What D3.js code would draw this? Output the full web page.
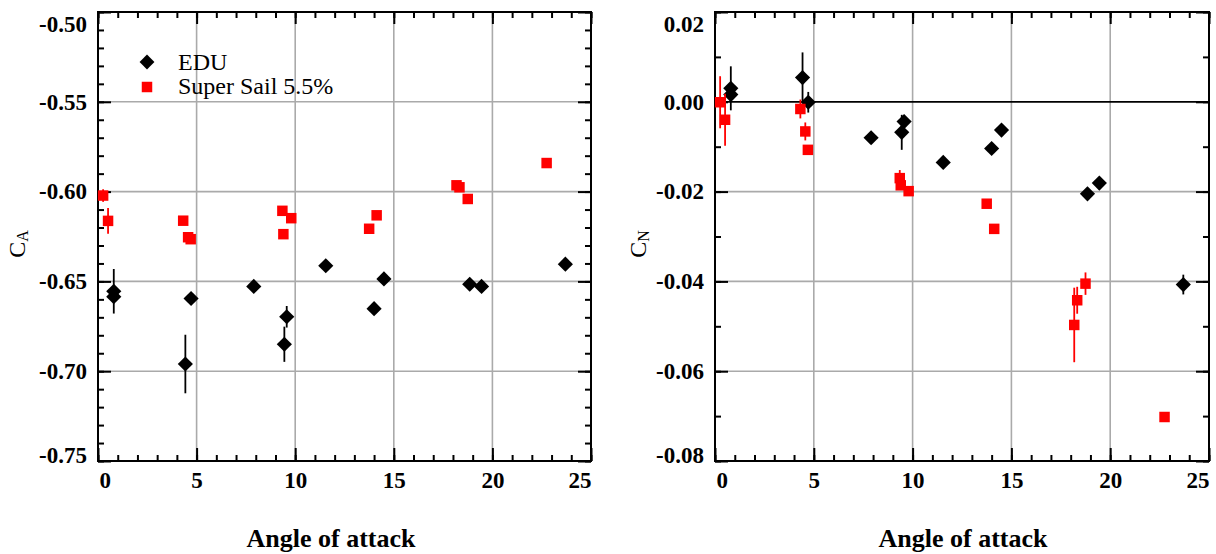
<!DOCTYPE html>
<html>
<head>
<meta charset="utf-8">
<script src="https://cdnjs.cloudflare.com/ajax/libs/d3/7.8.5/d3.min.js"></script>
<style>
  body { margin: 0; background: #fff; }
  svg text { font-family: "Liberation Serif", "Times New Roman", serif; }
</style>
</head>
<body>
<div id="chart"></div>
<script>
// EDU measurements
var angleEDU = [0.8, 0.8, 4.43, 4.72, 7.9, 9.57, 9.45, 11.55, 14.0, 14.5, 18.85, 19.45, 23.7];
var caEDU    = [-0.6555, -0.6585, -0.6960, -0.6595, -0.6528, -0.6697, -0.6850, -0.6413, -0.6652, -0.6486, -0.6516, -0.6528, -0.6404];
var caEDUerr = [0.0124, 0, 0.0163, 0, 0, 0.006, 0.0098, 0, 0, 0, 0, 0, 0];
var cnEDU    = [0.0030, 0.0016, 0.0054, -0.0001, -0.0080, -0.0044, -0.0068, -0.0135, -0.0104, -0.0063, -0.0205, -0.0181, -0.0407];
var cnEDUerr = [0.0049, 0, 0.0056, 0.0023, 0, 0, 0.0039, 0, 0, 0, 0, 0, 0.0022];

// Super Sail 5.5% measurements
var angleSS = [0.26, 0.51, 4.32, 4.57, 4.7, 9.35, 9.4, 9.8, 13.75, 14.13, 18.18, 18.33, 18.75, 22.75];
var caSS    = [-0.6022, -0.6163, -0.6162, -0.6254, -0.6265, -0.6107, -0.6237, -0.6148, -0.6207, -0.6132, -0.5965, -0.5976, -0.6041, -0.5841];
var caSSerr = [0.0035, 0.0072, 0, 0, 0, 0, 0, 0, 0, 0, 0, 0, 0, 0];
var cnSS    = [-0.0001, -0.0040, -0.0016, -0.0066, -0.0107, -0.0170, -0.0186, -0.0199, -0.0227, -0.0283, -0.0497, -0.0442, -0.0405, -0.0702];
var cnSSerr = [0.0058, 0.0058, 0.0021, 0.002, 0.001, 0.0018, 0, 0, 0.0008, 0.0008, 0.0083, 0.003, 0.0025, 0.0008];

// ticks
var xTicks = [0, 5, 10, 15, 20, 25];
var xMinor = d3.range(0, 26, 1);
var caTicks = [-0.75, -0.70, -0.65, -0.60, -0.55, -0.50];
var caMinor = d3.range(-0.75, -0.495, 0.01);
var cnTicks = [-0.08, -0.06, -0.04, -0.02, 0.00, 0.02];
var cnMinor = d3.range(-0.08, 0.0205, 0.01);

var seriesNames = ["EDU", "Super Sail 5.5%"];

var top_ = 12, bottom_ = 461;

var svg = d3.select("#chart").append("svg")
  .attr("width", 1216)
  .attr("height", 554);

function styleAxis(a) {
  a.select(".domain").remove();
  a.attr("font-family", "Liberation Serif").attr("font-size", 23).attr("font-weight", "bold");
  a.selectAll("line").attr("stroke", "#000").attr("stroke-width", 2);
}

function drawPanel(opt) {
  var x = d3.scaleLinear().domain([0, 25]).range([opt.left, opt.right]);
  var y = d3.scaleLinear().domain([opt.yTicks[0], opt.yTicks[opt.yTicks.length - 1]]).range([bottom_, top_]);
  var g = svg.append("g");

  // grid
  g.append("g").selectAll("line")
    .data(xTicks.slice(1, -1))
    .enter().append("line")
    .attr("x1", d => x(d)).attr("x2", d => x(d))
    .attr("y1", top_).attr("y2", bottom_)
    .attr("stroke", "#aaaaaa").attr("stroke-width", 1.6);

  g.append("g").selectAll("line")
    .data(opt.yTicks.slice(1, -1))
    .enter().append("line")
    .attr("x1", opt.left).attr("x2", opt.right)
    .attr("y1", d => y(d)).attr("y2", d => y(d))
    .attr("stroke", d => (opt.zeroLine && d === 0) ? "#000" : "#aaaaaa")
    .attr("stroke-width", d => (opt.zeroLine && d === 0) ? 1.8 : 1.6);

  // bottom
  g.append("g").attr("transform", `translate(0,${bottom_})`)
    .call(d3.axisBottom(x).tickValues(xMinor).tickSize(-6).tickFormat(""))
    .call(styleAxis);
  var xb = g.append("g").attr("transform", `translate(0,${bottom_})`)
    .call(d3.axisBottom(x).tickValues(xTicks).tickSize(-13).tickPadding(11).tickFormat(d => d))
    .call(styleAxis);
  xb.selectAll(".tick text").filter(d => d === 0).attr("text-anchor", "start").attr("x", 1);
  xb.selectAll(".tick text").filter(d => d === 25).attr("text-anchor", "end").attr("x", 0);

  // top
  g.append("g").attr("transform", `translate(0,${top_})`)
    .call(d3.axisTop(x).tickValues(xMinor).tickSize(-6).tickFormat(""))
    .call(styleAxis);
  g.append("g").attr("transform", `translate(0,${top_})`)
    .call(d3.axisTop(x).tickValues(xTicks).tickSize(-12).tickFormat(""))
    .call(styleAxis);

  // left
  g.append("g").attr("transform", `translate(${opt.left},0)`)
    .call(d3.axisLeft(y).tickValues(opt.yMinor).tickSize(-6).tickFormat(""))
    .call(styleAxis);
  var yl = g.append("g").attr("transform", `translate(${opt.left},0)`)
    .call(d3.axisLeft(y).tickValues(opt.yTicks).tickSize(-13).tickPadding(11).tickFormat(d => d.toFixed(2)))
    .call(styleAxis);
  yl.selectAll(".tick text").filter((d, i) => i === opt.yTicks.length - 1).attr("dy", "0.85em");
  yl.selectAll(".tick text").filter((d, i) => i === 0).attr("dy", "0.08em");

  // right
  g.append("g").attr("transform", `translate(${opt.right},0)`)
    .call(d3.axisRight(y).tickValues(opt.yMinor).tickSize(-6).tickFormat(""))
    .call(styleAxis);
  g.append("g").attr("transform", `translate(${opt.right},0)`)
    .call(d3.axisRight(y).tickValues(opt.yTicks).tickSize(-13).tickFormat(""))
    .call(styleAxis);

  // frame
  g.append("rect")
    .attr("x", opt.left).attr("y", top_)
    .attr("width", opt.right - opt.left).attr("height", bottom_ - top_)
    .attr("fill", "none").attr("stroke", "#000").attr("stroke-width", 2);

  // series
  opt.series.forEach(function(s) {
    var pts = s.angle.map((a, i) => ({a: a, v: s.val[i], e: s.err[i]}));
    var sg = g.append("g");
    sg.selectAll("line.err")
      .data(pts.filter(p => p.e > 0))
      .enter().append("line")
      .attr("class", "err")
      .attr("x1", d => x(d.a)).attr("x2", d => x(d.a))
      .attr("y1", d => y(d.v - d.e)).attr("y2", d => y(d.v + d.e))
      .attr("stroke", s.color).attr("stroke-width", 1.8);
    sg.selectAll("path.pt")
      .data(pts)
      .enter().append("path")
      .attr("class", "pt")
      .attr("d", d3.symbol().type(d3.symbolSquare).size(s.size))
      .attr("transform", d => `translate(${x(d.a)},${y(d.v)}) rotate(${s.rot})`)
      .attr("fill", s.color);
  });

  // y label
  var yt = g.append("text")
    .attr("transform", `translate(${opt.ylabX},244) rotate(-90)`)
    .attr("text-anchor", "middle")
    .attr("font-size", 24);
  yt.append("tspan").text("C");
  yt.append("tspan").attr("font-size", 16).attr("dy", 3).text(opt.ySub);

  // x label
  g.append("text")
    .attr("x", opt.xlabX).attr("y", 547)
    .attr("text-anchor", "middle")
    .attr("font-size", 26).attr("font-weight", "bold")
    .text("Angle of attack");

  return g;
}

var edu = {color: "#000", size: 115, rot: 45};
var ss = {color: "#ff0000", size: 110, rot: 0};

var left = drawPanel({
  left: 98, right: 591, yTicks: caTicks, yMinor: caMinor, ySub: "A",
  ylabX: 25, xlabX: 331, zeroLine: false,
  series: [
    Object.assign({angle: angleEDU, val: caEDU, err: caEDUerr}, edu),
    Object.assign({angle: angleSS, val: caSS, err: caSSerr}, ss)
  ]
});

drawPanel({
  left: 715, right: 1209, yTicks: cnTicks, yMinor: cnMinor, ySub: "N",
  ylabX: 646, xlabX: 963, zeroLine: true,
  series: [
    Object.assign({angle: angleEDU, val: cnEDU, err: cnEDUerr}, edu),
    Object.assign({angle: angleSS, val: cnSS, err: cnSSerr}, ss)
  ]
});

// legend
var legend = left.append("g");
var symStyles = [edu, ss];
seriesNames.forEach(function(name, i) {
  legend.append("path")
    .attr("d", d3.symbol().type(d3.symbolSquare).size(110))
    .attr("transform", `translate(147,${62 + i * 25}) rotate(${symStyles[i].rot})`)
    .attr("fill", symStyles[i].color);
  legend.append("text")
    .attr("x", 178).attr("y", 70 + i * 24)
    .attr("font-size", 24)
    .text(name);
});
</script>
</body>
</html>
